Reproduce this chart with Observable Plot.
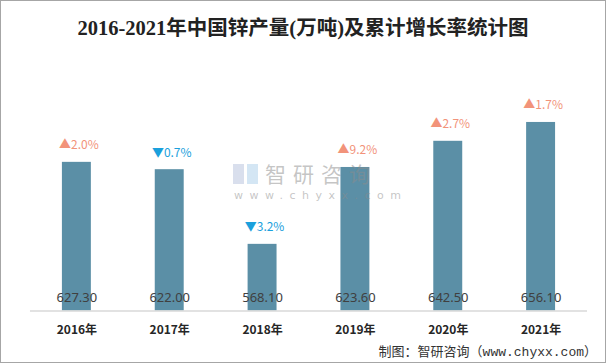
<!DOCTYPE html>
<html><head><meta charset="utf-8">
<script src="https://cdn.jsdelivr.net/npm/d3@7"></script>
<script src="https://cdn.jsdelivr.net/npm/@observablehq/plot@0.6"></script>
<style>
html,body{margin:0;padding:0;background:#fff;}
#wrap{position:relative;width:606px;height:363px;box-sizing:border-box;border:1px solid #a6a6a6;overflow:hidden;background:#fff;}
#title{position:absolute;left:0;top:14px;width:604px;text-align:center;font-family:"Liberation Serif","Noto Sans CJK SC",serif;font-weight:bold;font-size:20.5px;color:#222;line-height:26px;}
#chart{position:absolute;left:-1px;top:-1px;}
#footer{position:absolute;right:8px;top:343px;font-family:"Liberation Mono","Noto Sans CJK SC",monospace;font-size:13px;color:#333;line-height:18px;white-space:nowrap;}
.wm{position:absolute;color:rgba(140,140,140,0.5);font-family:"Noto Sans CJK SC",sans-serif;white-space:nowrap;pointer-events:none;}
</style></head>
<body>
<div id="wrap">
<div id="title">2016-2021年中国锌产量(万吨)及累计增长率统计图</div>
<div id="chart"></div>
<div class="wm" style="left:232px;top:163px;width:11px;height:20px;background:rgba(170,185,215,0.45);"></div>
<div class="wm" style="left:246px;top:163px;width:11px;height:20px;background:rgba(160,200,230,0.45);"></div>
<div class="wm" style="left:264px;top:160px;font-size:21px;line-height:24px;letter-spacing:7px;">智研咨询</div>
<div class="wm" style="left:233px;top:188px;font-size:11px;line-height:14px;letter-spacing:6.5px;font-family:'DejaVu Sans',sans-serif;">www.chyxx.com</div>
<div id="footer">制图：智研咨询（www.chyxx.com）</div>
</div>
<script>
const years = ["2016年","2017年","2018年","2019年","2020年","2021年"];
const production = [627.30, 622.00, 568.10, 623.60, 642.50, 656.10];
const growth = [2.0, -0.7, -3.2, 9.2, 2.7, 1.7];
const yMin = 520, yMax = 680;

const data = years.map((y, i) => ({year: y, value: production[i], g: growth[i]}));

const chart = Plot.plot({
  width: 606,
  height: 363,
  marginLeft: 30,
  marginRight: 18,
  marginTop: 89,
  marginBottom: 52,
  style: {fontFamily: "'Noto Sans CJK SC', sans-serif", background: "transparent"},
  x: {domain: years, paddingInner: 0.69, paddingOuter: 0.345, axis: null, label: null},
  y: {domain: [yMin, yMax], axis: null},
  marks: [
    Plot.barY(data, {x: "year", y1: () => yMin, y2: "value", fill: "#5b8fa6"}),
    Plot.ruleY([yMin], {stroke: "#d9d9d9", strokeWidth: 1.5}),
    Plot.axisX({label: null, tickSize: 0, tickPadding: 15, fontSize: 12, fontWeight: "bold", fill: "#262626"}),
    Plot.text(data, {x: "year", y: () => yMin, text: d => d.value.toFixed(2), dy: -13, fontSize: 13, fill: "#404040", fontFamily: "'Noto Sans', sans-serif"}),
    Plot.text(data, {x: "year", y: "value", text: d => (d.g >= 0 ? "▲" : "▼") + Math.abs(d.g).toFixed(1) + "%", dy: -17, dx: 2, fontSize: 12, fill: d => d.g >= 0 ? "#f2937a" : "#1aa0dc", fontFamily: "'Noto Sans CJK SC', sans-serif"})
  ]
});
document.getElementById("chart").appendChild(chart);
</script>
</body></html>
